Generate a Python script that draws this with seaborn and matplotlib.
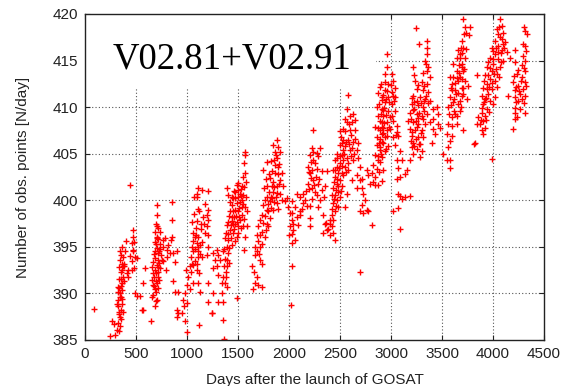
import pandas as pd
import matplotlib
matplotlib.use('Agg')
import matplotlib.pyplot as plt
import seaborn as sns
from matplotlib.patches import Rectangle

# (days after launch, obs points per day), one list per season
pts_2009 = [(88, 388.3), (441, 401.6),
            (245, 385.4), (261, 387), (294, 385.5), (310, 386.1), (327, 386.8), (343, 387.5), (353, 388.2),
            (360, 388.9), (327, 389.3), (343, 390), (327, 390.7), (360, 391.1), (376, 391.8), (366, 392.5),
            (386, 392.9), (343, 393.6), (376, 393.9), (392, 394.5), (402, 395.6), (418, 392.5), (425, 391.8),
            (327, 388.6), (333, 388), (353, 389.6), (366, 390.4), (320, 390.2), (386, 391.3), (409, 392.2),
            (359, 393.2), (353, 394.1), (335, 392.8), (350, 391.6), (340, 389.6), (370, 388.0), (345, 386.5),
            (280, 386.7), (474, 396.8), (474, 396.1), (458, 395.4), (474, 394.7), (490, 393.9), (484, 392.7),
            (458, 392.5), (507, 393.8), (490, 390), (507, 389.7), (539, 389.7), (588, 392.7), (565, 391.1),
            (572, 388.2), (560, 388.2), (440, 394), (460, 393.5), (470, 394.6), (480, 395.5),
            (332, 391.5), (338, 390.6), (348, 392.3), (356, 390.8), (364, 389.4), (372, 392.9), (344, 394.6),
            (330, 387.8), (318, 388.9), (362, 395), (380, 393.2), (338, 386), (356, 387.2)]

pts_2010 = [(703, 399.5), (703, 398.4), (696, 397.5), (719, 397), (735, 396.6), (703, 396.1), (768, 395.7),
            (784, 395.9), (735, 394.8), (719, 394.3), (686, 393.8), (670, 393.4), (703, 393.1), (735, 392.7),
            (752, 393.6), (686, 392.5), (670, 392.2), (719, 391.8), (703, 391.1), (686, 390.5), (670, 389.8),
            (654, 389.6), (703, 389.3), (686, 388.6), (654, 391.4), (645, 387), (690, 394.6), (710, 394.9),
            (695, 395.3), (715, 393.6), (725, 393.3), (700, 392.2), (680, 391.8), (712, 390.6), (728, 391.4),
            (695, 390.1), (660, 392.8), (745, 394.1), (740, 395.3), (720, 395.8), (690, 396.6), (768, 395),
            (801, 394.7), (817, 395.2), (801, 393.9), (850, 399.8), (850, 397.9), (856, 396.1), (843, 395.7),
            (866, 394.3), (882, 393.4), (866, 391.3), (882, 390.2), (908, 390.1), (899, 388.2), (899, 387.5),
            (915, 387.9), (899, 394.5), (760, 393.5), (790, 392.5), (830, 394.3),
            (685, 395.5), (705, 397.2), (712, 392.8), (698, 391.3), (678, 390.8), (692, 389.2), (726, 394.6),
            (708, 395.9), (675, 394.2), (665, 390.9), (718, 392.3)]

pts_2011 = [(964, 389.3), (974, 388.6), (954, 387.9), (980, 387), (997, 385.9), (980, 390), (997, 390.9),
            (1013, 391.8), (987, 392.5), (1029, 392.9), (1046, 393.2), (1039, 393.9), (1062, 394.5),
            (1046, 395), (1078, 394.8), (1062, 395.6), (1078, 396.1), (1052, 397.7), (1072, 400.4),
            (1095, 400.7), (1111, 393.9), (1095, 392.5), (1111, 391.1), (1127, 390.2), (1062, 391.1),
            (1039, 392.3), (1111, 401.3), (1143, 401.1), (1209, 401), (1094, 400.4), (1104, 399.1),
            (1202, 399), (1160, 398.2), (1209, 397.9), (1192, 397.2), (1176, 396.5), (1209, 396.3),
            (1111, 396.1), (1094, 395.4), (1127, 395.2), (1209, 395), (1111, 394.5), (1143, 393.9),
            (1094, 393.2), (1117, 392.2), (1209, 391.1), (1192, 394.1), (1258, 394.3), (1290, 394.7),
            (1307, 394.1), (1274, 393.6), (1323, 393.6), (1290, 392.9), (1258, 392.7), (1307, 392),
            (1209, 389.1), (1258, 390), (1307, 389.1), (1339, 390), (1241, 387.9), (1356, 389.1),
            (1117, 386.6), (1247, 387.9), (1085, 397), (1100, 397.8), (1070, 398.5), (1120, 398.8),
            (1135, 396.9), (1150, 395.5), (1060, 396.5), (1030, 390.5), (1000, 389),
            (1080, 393.5), (1090, 396.3), (1105, 395), (1125, 394.2), (1140, 397.4), (1180, 399.6),
            (1165, 397.5), (1195, 398.4), (1055, 393)]

pts_2012 = [(1568, 405.2), (1568, 404.9), (1562, 404), (1568, 402.9), (1575, 402), (1486, 401.6),
            (1503, 401.1), (1470, 400.9), (1519, 400.7), (1388, 401.3), (1405, 400.6), (1454, 400.2),
            (1486, 399.7), (1536, 400), (1568, 399.3), (1585, 398.8), (1536, 398.4), (1470, 399),
            (1437, 398.2), (1405, 397.7), (1470, 397.5), (1503, 397.2), (1552, 397.2), (1421, 396.8),
            (1454, 396.5), (1486, 396.1), (1372, 395.9), (1405, 395.7), (1568, 396.1), (1585, 397.2),
            (1562, 394.7), (1388, 395), (1437, 395.2), (1470, 395.6), (1356, 394.5), (1405, 394.3),
            (1388, 393.6), (1366, 392.9), (1379, 392.3), (1356, 391.8), (1372, 391.1), (1388, 390.7),
            (1486, 389.5), (1339, 391.1), (1503, 396.5), (1519, 397.9), (1444, 399.5), (1496, 400.4),
            (1536, 401.5), (1552, 400.6), (1364, 385.1), (1353, 387.1), (1420, 398.8), (1450, 397.4),
            (1480, 398.3), (1510, 399.2), (1540, 399.3), (1555, 398), (1460, 396.9), (1430, 396),
            (1400, 396.4), (1415, 394.9), (1395, 392.9), (1375, 393.7), (1490, 397.7), (1525, 401.2),
            (1545, 402.5), (1520, 399.8), (1430, 397.3), (1445, 400.3), (1500, 398.9), (1465, 398.2),
            (1395, 397.3), (1410, 398.3), (1425, 399.8), (1440, 397.8), (1455, 398.9), (1475, 400.2),
            (1495, 401.9), (1510, 398.2), (1530, 400.5), (1550, 399.6), (1560, 401.4), (1385, 396.5),
            (1415, 393.3), (1365, 394.8), (1380, 391.8), (1460, 401), (1525, 397), (1575, 400.3)]

pts_2013 = [(1634, 392.9), (1660, 392.3), (1683, 391.8), (1666, 391.1), (1650, 390.5), (1699, 390.9),
            (1732, 390.7), (1715, 393.6), (1846, 405.9), (1879, 406.5), (1862, 405.2), (1911, 405.2),
            (1879, 404.5), (1781, 404.1), (1748, 403.3), (1895, 403.6), (1862, 402.9), (1813, 402.4),
            (1911, 402.2), (1879, 401.5), (1846, 400.9), (1911, 400.7), (1781, 400.4), (1813, 399.9),
            (1879, 399.7), (1748, 399.5), (1781, 399), (1846, 399), (1732, 398.4), (1813, 398.1),
            (1715, 397.9), (1781, 397.5), (1699, 397.2), (1732, 396.6), (1683, 396.3), (1764, 396.1),
            (1699, 395.6), (1666, 395), (1715, 395), (1683, 394.5), (1666, 394.1), (1732, 393.2),
            (1928, 400), (1944, 401.5), (1895, 399.1), (1830, 401.5), (1928, 402.9), (1781, 401.5),
            (1960, 399.9), (1993, 399.3), (2009, 398.6), (2026, 397.9), (2009, 397.2), (2042, 396.8),
            (2003, 396.3), (2026, 392.9), (2016, 388.8), (1977, 400.2), (1860, 403.8), (1890, 402.8),
            (1840, 402), (1870, 400.3), (1800, 400.9), (1825, 400.3), (1900, 401.8), (1855, 399.8),
            (1760, 398.3), (1795, 398.8), (1745, 397.6), (1720, 396.3), (1765, 400), (1835, 403.1),
            (1905, 403.9), (1750, 401.3), (1770, 402.3), (1790, 399.6), (1805, 402.8), (1820, 404.2),
            (1850, 404.3), (1870, 404.9), (1885, 400.8), (1850, 401.4), (1820, 399.2), (1790, 397.2),
            (1740, 395.3), (1705, 394.2), (1775, 396.8), (1835, 400.2), (1895, 405.7)]

pts_2014 = [(2026, 399.9), (2059, 399.3), (2026, 398.6), (2075, 398.2), (2043, 397.5), (2092, 397.3),
            (2026, 396.4), (2059, 395.7), (2026, 395.4), (2108, 400.4), (2141, 399.7), (2124, 399.1),
            (2108, 398.4), (2075, 400.7), (2239, 407.5), (2222, 405.6), (2304, 405.6), (2206, 404.9),
            (2288, 404.7), (2239, 404.3), (2190, 403.6), (2271, 403.4), (2206, 402.9), (2320, 403.1),
            (2369, 403.1), (2239, 402.2), (2190, 401.8), (2288, 401.8), (2222, 401.3), (2255, 400.9),
            (2353, 401.5), (2141, 400.7), (2157, 400), (2271, 400.6), (2320, 401.1), (2304, 400),
            (2108, 398.8), (2206, 398.1), (2206, 397.2), (2337, 398.4), (2353, 397.5), (2402, 397.9),
            (2337, 396.5), (2369, 396.8), (2418, 397.2), (2435, 396.5), (2451, 395.7), (2402, 396.3),
            (2288, 399.3), (2215, 402.4), (2230, 403.3), (2200, 401.2), (2245, 401.6), (2260, 402.5),
            (2180, 399.4), (2365, 397.6), (2380, 396.9), (2225, 400.1), (2210, 399.4),
            (2195, 403), (2235, 405.2), (2250, 404), (2275, 405.1), (2215, 404.1), (2295, 402.3),
            (2340, 400.4), (2170, 401)]

pts_2015 = [(2582, 411.3), (2631, 409.3), (2598, 409), (2566, 408.4), (2647, 408.6), (2549, 407.4),
            (2598, 407.5), (2647, 407.5), (2533, 406.5), (2582, 406.5), (2631, 406.3), (2680, 406.1),
            (2500, 405.9), (2549, 405.8), (2598, 405.4), (2664, 405.4), (2468, 405), (2517, 404.9),
            (2566, 404.5), (2631, 404.3), (2680, 404.5), (2451, 404.3), (2500, 404), (2549, 403.6),
            (2468, 403.6), (2435, 403.2), (2484, 402.9), (2533, 402.7), (2451, 402.5), (2500, 402.2),
            (2468, 401.8), (2517, 401.5), (2435, 401.3), (2484, 400.9), (2451, 400.6), (2500, 400.4),
            (2468, 400), (2435, 399.7), (2484, 399.3), (2418, 399.1), (2451, 398.8), (2418, 398.4),
            (2435, 397.9), (2402, 397.5), (2566, 400.7), (2549, 399.3), (2582, 403.2), (2615, 402.2),
            (2696, 403.6), (2664, 402.7), (2713, 402.3), (2500, 407.4), (2533, 407.7), (2517, 402.9),
            (2696, 402.2), (2713, 401.3), (2664, 401.3), (2729, 400.7), (2745, 400), (2713, 399.5),
            (2762, 399), (2729, 398.6), (2778, 398.8), (2696, 398.8), (2811, 397.3), (2696, 392.3),
            (2762, 403.2), (2794, 401.8), (2843, 401.6), (2876, 401.6), (2778, 402.7), (2490, 403.5),
            (2475, 402.3), (2520, 403.7), (2540, 405), (2560, 406.3), (2610, 407), (2620, 405.6),
            (2575, 404), (2460, 401.1), (2445, 400.1), (2510, 401), (2530, 404.3), (2590, 406),
            (2640, 405), (2455, 403.2), (2470, 404.5), (2480, 401.5), (2495, 404.7), (2505, 406.8),
            (2525, 405.4), (2545, 408.7), (2560, 403), (2590, 408.2), (2605, 404.8), (2620, 408.4),
            (2650, 406.6), (2440, 402), (2425, 400.6), (2460, 399.4), (2520, 406.2), (2570, 409.8)]

pts_2016 = [(2892, 412.2), (2876, 411.5), (2909, 410.8), (2860, 410), (2925, 409.7), (2876, 409),
            (2909, 408.4), (2843, 407.9), (2892, 407.5), (2925, 407.2), (2860, 406.8), (2909, 406.3),
            (2860, 405.9), (2892, 405.4), (2843, 404.9), (2876, 404.3), (2827, 403.8), (2860, 403.4),
            (2811, 402.9), (2843, 402.5), (2827, 402), (2957, 415.7), (2964, 414.3), (2941, 413.6),
            (3006, 413.6), (3023, 412.8), (2974, 412.5), (3039, 412.1), (2941, 411.8), (3006, 411.6),
            (2908, 411.1), (2974, 411.1), (3039, 411.1), (2941, 410.5), (3006, 410.3), (2908, 409.8),
            (2974, 409.6), (3039, 409.6), (2925, 409.1), (2990, 408.9), (2892, 408.5), (2957, 408.4),
            (3023, 408.5), (2925, 407.8), (2990, 407.7), (3055, 408), (2908, 407.1), (2957, 406.9),
            (3023, 406.8), (2925, 406.2), (2892, 405.7), (2941, 405.3), (2908, 404.6), (2892, 404.1),
            (2918, 403.2), (2908, 402.1), (3055, 407.3), (3072, 406.9), (3039, 405.9), (3088, 405.3),
            (3055, 404.3), (3104, 404.3), (3072, 403.5), (3137, 402.8), (3055, 402.3), (3088, 402.5),
            (3072, 400.7), (3088, 400.5), (3104, 400.1), (3137, 400.3), (3186, 400.5), (3016, 398.9),
            (3072, 399.2), (3088, 396.9), (3153, 403.2), (2900, 409.3), (2915, 407.9), (2935, 409.9),
            (2950, 410.9), (2985, 410.6), (2960, 407.5), (2880, 406.2), (2940, 406.8), (2970, 405.8),
            (2870, 407.8), (2885, 410.3), (2895, 406.6), (2905, 412.5), (2920, 411.3), (2930, 408.3),
            (2945, 412.7), (2955, 409.2), (2965, 411.7), (2980, 407.9), (2995, 412.4), (3010, 409),
            (3030, 410.7), (3045, 407), (2885, 403), (2900, 405), (2870, 404.8), (3015, 411.2),
            (2950, 405.5)]

pts_2017 = [(3245, 418.5), (3278, 416.8), (3349, 417.1), (3349, 416.4), (3349, 415.7), (3333, 415),
            (3366, 414.3), (3317, 413.7), (3382, 413.2), (3235, 412.8), (3300, 412.7), (3349, 412.5),
            (3251, 411.9), (3317, 411.8), (3366, 411.6), (3219, 411.2), (3284, 411.1), (3333, 410.9),
            (3382, 410.7), (3202, 410.3), (3268, 410.2), (3317, 410), (3415, 409.8), (3448, 410),
            (3186, 409.4), (3251, 409.3), (3300, 409.1), (3349, 409.3), (3464, 409.3), (3415, 408.7),
            (3170, 408.5), (3219, 408.4), (3268, 408.2), (3333, 408.2), (3382, 408.4), (3464, 408.2),
            (3186, 407.7), (3235, 407.5), (3300, 407.5), (3415, 407.7), (3202, 406.9), (3268, 406.8),
            (3317, 406.8), (3219, 406.2), (3284, 406), (3202, 405.7), (3251, 405.5), (3300, 405.3),
            (3219, 405), (3186, 404.3), (3284, 404.6), (3399, 406.2), (3431, 407.1), (3480, 407.8),
            (3219, 414.3), (3230, 409.8), (3210, 407.3), (3240, 406.6), (3260, 408.8), (3290, 410.4),
            (3340, 411.2), (3355, 413.9), (3325, 412.3), (3230, 410.6), (3250, 407.9),
            (3195, 408.7), (3205, 411), (3215, 409.7), (3225, 405.8), (3240, 408.5), (3255, 410.7),
            (3265, 412.4), (3275, 409.4), (3290, 407.2), (3310, 408.7), (3325, 410.7), (3340, 414.6),
            (3360, 410.4), (3195, 406.4), (3270, 406), (3320, 409.6), (3225, 413.4)]

pts_2018 = [(3513, 405), (3562, 405.7), (3578, 404.3), (3546, 407.1), (3578, 406.4), (3562, 408.2),
            (3595, 408.9), (3562, 410), (3611, 410.5), (3578, 411.1), (3627, 411.8), (3595, 412.5),
            (3660, 412.8), (3578, 413.2), (3644, 413.9), (3693, 414.3), (3611, 414.6), (3676, 415.3),
            (3660, 416.1), (3693, 417.1), (3709, 419.5), (3627, 409.3), (3676, 409.6), (3644, 408.2),
            (3693, 411.2), (3709, 412.1), (3546, 404.3), (3578, 403.5), (3725, 418.6), (3774, 418.6),
            (3768, 417.7), (3709, 416.4), (3676, 415.7), (3725, 415.3), (3692, 414.6), (3709, 413.9),
            (3676, 413.2), (3725, 412.8), (3692, 412.1), (3709, 411.4), (3676, 410.7), (3741, 410.9),
            (3709, 407.5), (3839, 413.4), (3620, 410.9), (3640, 411.4), (3655, 410.3), (3600, 411.8),
            (3590, 410.2), (3650, 413.1), (3665, 414.5), (3700, 415.8), (3720, 414.1), (3735, 416.2),
            (3600, 406.9), (3750, 412.3), (3810, 406), (3570, 409.3), (3585, 412), (3605, 413.2),
            (3615, 409.6), (3630, 412.6), (3645, 415.3), (3660, 411.5), (3670, 413.7), (3685, 416.3),
            (3700, 413), (3715, 417.8), (3690, 410), (3650, 409), (3600, 408), (3735, 418)]

pts_2019 = [(4068, 419.5), (4085, 418.7), (4036, 418.4), (4101, 418), (4068, 417.5), (4019, 417.1),
            (4117, 417), (4052, 416.6), (3986, 416.4), (4085, 416.1), (4019, 415.7), (4134, 415.9),
            (3970, 415.3), (4052, 415.2), (4101, 415), (4003, 414.6), (3937, 414.3), (4068, 414.3),
            (3986, 413.9), (4036, 413.6), (3921, 413.4), (3970, 413), (4019, 412.8), (3937, 412.5),
            (3905, 412.1), (3986, 411.9), (3954, 411.4), (3921, 410.9), (3970, 410.7), (3905, 410.3),
            (3937, 409.8), (3888, 409.4), (3921, 409.1), (3905, 408.5), (3872, 408.2), (3921, 407.8),
            (3888, 407.5), (3905, 407.1), (3856, 408.9), (3839, 408.2), (4003, 410.3), (4019, 411.1),
            (3823, 406.2), (3986, 404.4), (4166, 415.3), (4050, 417.8), (4090, 417.3), (4000, 416),
            (3955, 413.5), (3945, 411.9), (3990, 412.6), (4030, 414.1), (4075, 415.8), (3910, 410.6),
            (3930, 408.6), (4110, 416.4), (4060, 413.2), (3895, 411.2), (3915, 412.8), (3930, 411),
            (3950, 414.8), (3960, 412.2), (3975, 414.2), (3995, 415.2), (4010, 413.6), (4025, 416.4),
            (4045, 415.9), (4060, 418.6), (4080, 414.8), (4095, 416.8), (4040, 412.2), (3880, 408.6),
            (3895, 409.9), (3960, 409.5)]

pts_2020 = [(4313, 418.2), (4330, 417.9), (4313, 416.6), (4215, 416.1), (4297, 415.5), (4313, 415),
            (4215, 414.8), (4281, 414.5), (4313, 413.9), (4232, 413.6), (4281, 413.2), (4313, 412.7),
            (4199, 412.7), (4248, 412.3), (4297, 411.9), (4215, 411.8), (4264, 411.4), (4313, 411.2),
            (4215, 411.1), (4281, 410.9), (4248, 410.7), (4313, 409.4), (4215, 409.4), (4232, 408.9),
            (4215, 408.7), (4199, 407.7), (4264, 409.8), (4150, 411.2), (4300, 414.2), (4320, 412.3),
            (4230, 412.2), (4305, 410.4), (4225, 410.6), (4210, 413.3), (4240, 414), (4270, 412.8),
            (4290, 416.8), (4320, 416), (4305, 418.6), (4220, 409.9), (4258, 411.7)]

x_ticks = [0, 500, 1000, 1500, 2000, 2500, 3000, 3500, 4000, 4500]
y_ticks = [385, 390, 395, 400, 405, 410, 415, 420]
version_text = 'V02.81+V02.91'

sns.set_style('ticks')
plt.rcParams['font.family'] = ['Liberation Sans', 'DejaVu Sans']

all_pts = (pts_2009 + pts_2010 + pts_2011 + pts_2012 + pts_2013 + pts_2014 + pts_2015
           + pts_2016 + pts_2017 + pts_2018 + pts_2019 + pts_2020)
df = pd.DataFrame(all_pts, columns=['day', 'obs'])

fig = plt.figure(figsize=(5.63, 3.86), dpi=100)
ax = fig.add_axes([0.151, 0.1192, 0.8153, 0.8446])

# gnuplot style dotted grid, drawn by hand so the label box can hide part of it
for v in x_ticks[1:-1]:
    ax.axvline(v, color='#555555', lw=0.8, ls=(0, (1, 2)), zorder=0.5)
for v in y_ticks[1:-1]:
    ax.axhline(v, color='#555555', lw=0.8, ls=(0, (1, 2)), zorder=0.5)

# white patch behind the version label
ax.add_patch(Rectangle((0, 0.773), 0.634, 0.227, transform=ax.transAxes,
                       facecolor='white', edgecolor='none', zorder=1))

sns.scatterplot(data=df, x='day', y='obs', marker='+', color='red', s=20,
                linewidth=1.0, ax=ax, zorder=2, legend=False)

ax.text(0.061, 0.834, version_text, transform=ax.transAxes, ha='left', va='baseline',
        fontsize=26.5, family='Liberation Serif', color='black', zorder=3)

ax.set_xlim(0, 4500)
ax.set_ylim(385, 420)
ax.set_xticks(x_ticks)
ax.set_yticks(y_ticks)
ax.tick_params(direction='in', top=True, right=True, length=3.6, width=0.8,
               labelsize=11, labelcolor='#222222', color='#222222')
ax.tick_params(axis='x', pad=5)
ax.tick_params(axis='y', pad=5)
for sp in ax.spines.values():
    sp.set_linewidth(1.0)
    sp.set_color('#222222')

ax.set_xlabel('Days after the launch of GOSAT', fontsize=11, color='#222222')
ax.set_ylabel('Number of obs. points [N/day]', fontsize=11, color='#222222')
ax.xaxis.set_label_coords(0.5, -0.1)
ax.yaxis.set_label_coords(-0.12, 0.5)

fig.savefig('out.png', dpi=100)
